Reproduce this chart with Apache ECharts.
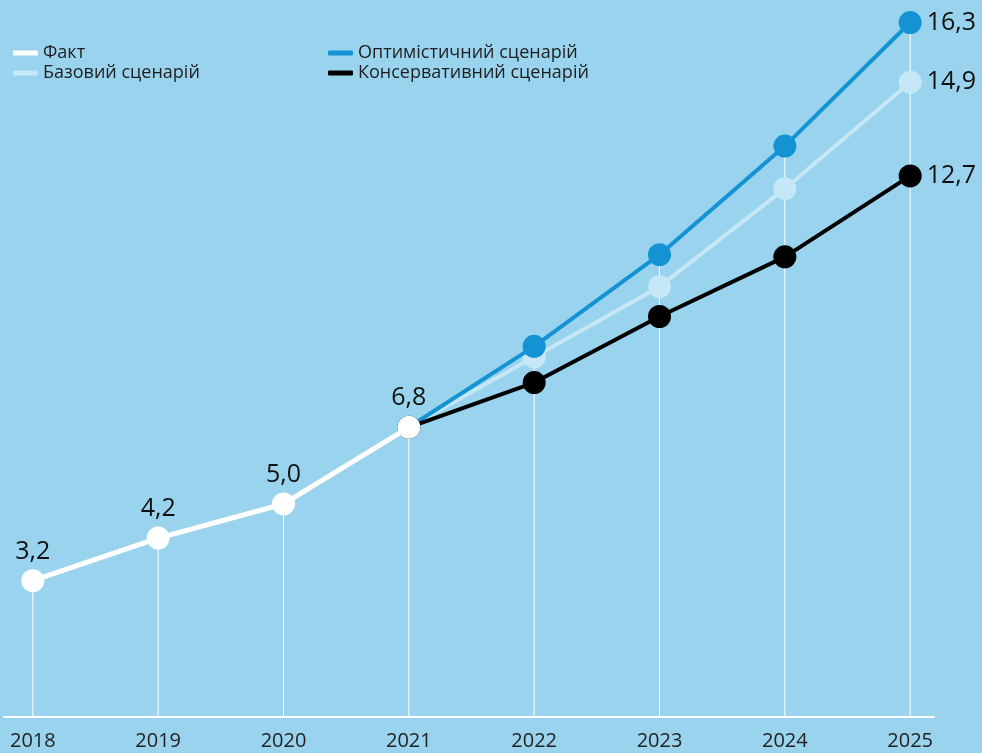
<!DOCTYPE html>
<html>
<head>
<meta charset="utf-8">
<script src="https://cdn.jsdelivr.net/npm/echarts@6/dist/echarts.min.js"></script>
<style>
  html, body { margin: 0; padding: 0; background: #9ad3ee; }
  #chart { width: 982px; height: 753px; }
</style>
</head>
<body>
<div id="chart"></div>
<script>
// data
const years = [2018, 2019, 2020, 2021, 2022, 2023, 2024, 2025];
const fact = [3.2, 4.2, 5.0, 6.8];
const optimistic = [6.8, 8.7, 10.85, 13.4, 16.3];   // 2021..2025
const base = [6.8, 8.45, 10.1, 12.4, 14.9];
const conservative = [6.8, 7.85, 9.4, 10.8, 12.7];

const names = ['Факт', 'Базовий сценарій', 'Оптимістичний сценарій', 'Консервативний сценарій'];

const fmt = v => v.toFixed(1).replace('.', ',');
const pairs = (arr, start) => arr.map((v, i) => [years[start + i], v]);

// drop lines: from the highest point of each year down to the axis
const drops = years.map((y, i) => {
  let vals = [];
  if (i < fact.length) vals.push(fact[i]);
  if (i >= 3) vals.push(optimistic[i - 3], base[i - 3], conservative[i - 3]);
  return [y, Math.max.apply(null, vals)];
});

function scenario(name, data, color, z) {
  return {
    name: name,
    type: 'line',
    data: pairs(data, 3),
    z: z,
    symbol: 'circle',
    symbolSize: 23,
    showAllSymbol: true,
    lineStyle: { color: color, width: 4 },
    itemStyle: { color: color },
    label: {
      show: true,
      position: 'right',
      distance: 5,
      color: '#111',
      fontSize: 25,
      fontFamily: 'Open Sans',
      formatter: p => p.dataIndex === data.length - 1 ? fmt(p.value[1]) : ''
    },
    emphasis: { disabled: true },
    animation: false
  };
}

const legendText = { color: '#1e1e1e', fontSize: 18, fontFamily: 'Open Sans' };

const chart = echarts.init(document.getElementById('chart'));
chart.setOption({
  backgroundColor: '#9ad3ee',
  textStyle: { fontFamily: 'Open Sans' },
  legend: [
    {
      data: [names[0], names[1]],
      orient: 'vertical',
      left: 8,
      top: 39,
      itemGap: 2,
      itemWidth: 25,
      itemHeight: 5,
      icon: 'roundRect',
      textStyle: legendText
    },
    {
      data: [names[2], names[3]],
      orient: 'vertical',
      left: 323,
      top: 39,
      itemGap: 2,
      itemWidth: 25,
      itemHeight: 5,
      icon: 'roundRect',
      textStyle: legendText
    }
  ],
  grid: { left: 4, right: 48, top: 14, bottom: 36 },
  xAxis: {
    type: 'value',
    min: 2017.77,
    max: 2025.19,
    splitLine: { show: false },
    axisTick: { show: false },
    axisLine: { show: true, lineStyle: { color: '#ffffff', width: 2 } },
    axisLabel: {
      customValues: years,
      formatter: v => String(v),
      color: '#222',
      fontSize: 20,
      margin: 14
    }
  },
  yAxis: {
    type: 'value',
    min: 0,
    max: 16.5,
    show: false,
    splitLine: { show: false }
  },
  series: [
    {
      name: 'drops',
      type: 'bar',
      data: drops,
      barWidth: 1,
      itemStyle: { color: '#ffffff' },
      z: 1,
      silent: true,
      animation: false
    },
    scenario(names[1], base, '#c6e7f6', 2),
    scenario(names[2], optimistic, '#1393d3', 3),
    scenario(names[3], conservative, '#000000', 4),
    {
      name: names[0],
      type: 'line',
      data: pairs(fact, 0),
      z: 5,
      symbol: 'circle',
      symbolSize: 23,
      lineStyle: { color: '#ffffff', width: 5 },
      itemStyle: { color: '#ffffff' },
      label: {
        show: true,
        position: 'top',
        distance: 5,
        color: '#111',
        fontSize: 25,
        fontFamily: 'Open Sans',
        formatter: p => fmt(p.value[1])
      },
      emphasis: { disabled: true },
      animation: false
    }
  ]
});
</script>
</body>
</html>
